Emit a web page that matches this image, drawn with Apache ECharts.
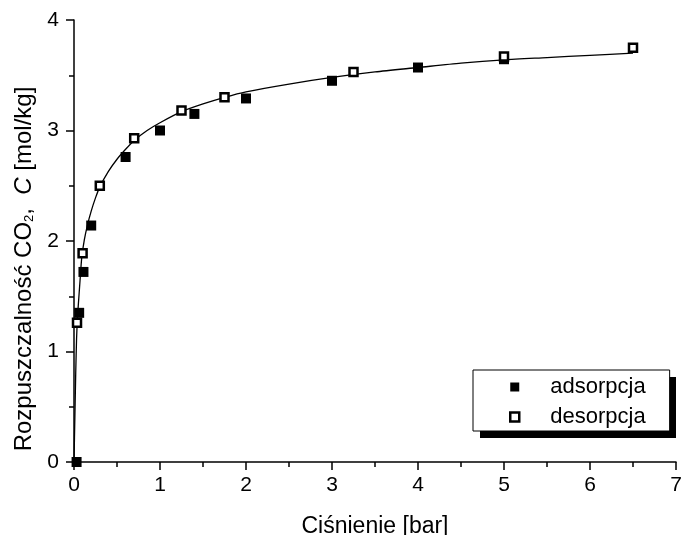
<!DOCTYPE html>
<html>
<head>
<meta charset="utf-8">
<script src="https://cdn.jsdelivr.net/npm/echarts@6/dist/echarts.min.js"></script>
<style>
  html, body { margin: 0; padding: 0; background: #fff; }
  #chart { width: 682px; height: 535px; }
</style>
</head>
<body>
<div id="chart"></div>
<script>
// punkty pomiarowe
var adsX = [0.03, 0.06, 0.11, 0.2, 0.6, 1.0, 1.4, 2.0, 3.0, 4.0, 5.0]
var adsY = [0, 1.35, 1.72, 2.14, 2.76, 3.0, 3.15, 3.29, 3.45, 3.57, 3.645]
var desX = [0.035, 0.1, 0.3, 0.7, 1.25, 1.75, 3.25, 5.0, 6.5]
var desY = [1.26, 1.89, 2.50, 2.93, 3.18, 3.30, 3.53, 3.67, 3.75]

// krzywa dopasowania
var fitX = [0, 0.01, 0.02, 0.03, 0.04, 0.05, 0.07, 0.09, 0.12, 0.155, 0.2, 0.25, 0.3, 0.4, 0.5, 0.6, 0.7, 0.85, 1.0, 1.25, 1.5, 1.75, 2.0, 2.5, 3.0, 3.5, 4.0, 4.5, 5.0, 5.5, 6.0, 6.5]
var fitY = [0, 0.4, 0.8, 1.12, 1.3, 1.42, 1.64, 1.85, 2.01, 2.14, 2.27, 2.39, 2.49, 2.63, 2.74, 2.83, 2.91, 3.0, 3.07, 3.17, 3.24, 3.30, 3.35, 3.42, 3.48, 3.53, 3.57, 3.61, 3.64, 3.66, 3.68, 3.70]

function pairs (xs, ys) {
  return xs.map(function (x, i) { return [x, ys[i]] })
}

var font = 'Liberation Sans, Arial, sans-serif'

var myChart = echarts.init(document.getElementById('chart'), null, {renderer: 'canvas'})

var axisCommon = {
  type: 'value',
  interval: 1,
  axisLine: {show: true, onZero: false, lineStyle: {color: '#000', width: 1.5}},
  axisTick: {show: true, inside: false, length: 8, lineStyle: {color: '#000', width: 1.5}},
  minorTick: {show: true, splitNumber: 2, length: 5, lineStyle: {color: '#000', width: 1.5}},
  splitLine: {show: false},
  axisLabel: {color: '#000', fontSize: 21, fontFamily: font}
}

var filledStyle = {color: '#000', opacity: 1}
var openStyle = {color: '#fff', borderColor: '#000', borderWidth: 2.5, opacity: 1}

var option = {
  animation: false,
  backgroundColor: '#fff',
  grid: {left: 74, right: 6, top: 20, bottom: 73, outerBoundsMode: 'none', containLabel: false},
  // cień ramki legendy
  graphic: [{
    type: 'rect',
    z: 1,
    shape: {x: 480, y: 377, width: 196, height: 61},
    style: {fill: '#000'}
  }],
  legend: {
    orient: 'vertical',
    left: 473,
    top: 370,
    z: 5,
    padding: [6, 24, 3, 36],
    itemGap: 8,
    itemWidth: 9,
    itemHeight: 9,
    backgroundColor: '#fff',
    borderColor: '#000',
    borderWidth: 1,
    borderRadius: 0,
    textStyle: {color: '#000', fontSize: 22, fontFamily: font, padding: [0, 0, 0, 26]},
    data: [
      {name: 'adsorpcja', icon: 'rect', itemStyle: filledStyle},
      {name: 'desorpcja', icon: 'rect', itemStyle: {color: '#fff', borderColor: '#000', borderWidth: 2.5}}
    ]
  },
  xAxis: Object.assign({}, axisCommon, {
    min: 0,
    max: 7,
    name: 'Ciśnienie [bar]',
    nameLocation: 'middle',
    nameGap: 53,
    nameTextStyle: {color: '#000', fontSize: 23, fontFamily: font},
    axisLabel: Object.assign({}, axisCommon.axisLabel, {margin: 13})
  }),
  yAxis: Object.assign({}, axisCommon, {
    min: 0,
    max: 4,
    name: 'Rozpuszczalność CO{sub|2},  {i|C} [mol/kg]',
    nameLocation: 'middle',
    nameRotate: 90,
    nameGap: 38,
    nameTextStyle: {
      color: '#000',
      fontSize: 24,
      fontFamily: font,
      padding: [0, 56, 0, 0],
      rich: {
        sub: {fontSize: 13, fontFamily: font, color: '#000', verticalAlign: 'bottom', lineHeight: 22},
        i: {fontSize: 24, fontFamily: font, color: '#000', fontStyle: 'italic'}
      }
    },
    axisLabel: Object.assign({}, axisCommon.axisLabel, {margin: 15})
  }),
  series: [
    {
      name: 'dopasowanie',
      type: 'line',
      data: pairs(fitX, fitY),
      showSymbol: false,
      smooth: 0.25,
      lineStyle: {color: '#000', width: 1.3},
      z: 1
    },
    {
      name: 'adsorpcja',
      type: 'scatter',
      data: pairs(adsX, adsY),
      symbol: 'rect',
      symbolSize: 10,
      itemStyle: filledStyle,
      z: 2
    },
    {
      name: 'desorpcja',
      type: 'scatter',
      data: pairs(desX, desY),
      symbol: 'rect',
      symbolSize: 8,
      itemStyle: openStyle,
      z: 3
    }
  ]
}
myChart.setOption(option)
</script>
</body>
</html>
